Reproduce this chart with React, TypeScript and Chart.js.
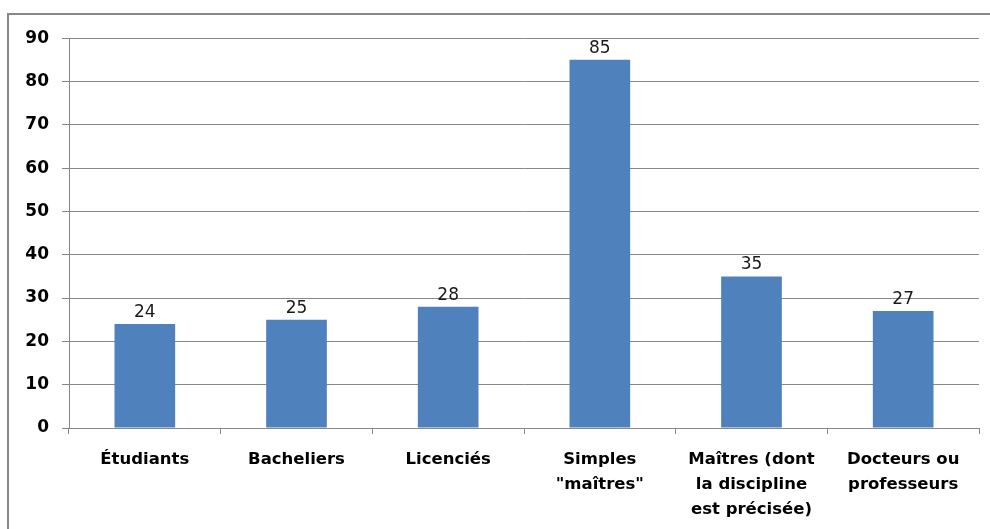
import React, { useEffect, useRef } from "react";
import { Chart, registerables } from "chart.js";

Chart.register(...registerables);

const categories: (string | string[])[] = [
  "Étudiants",
  "Bacheliers",
  "Licenciés",
  ["Simples", "\"maîtres\""],
  ["Maîtres (dont", "la discipline", "est précisée)"],
  ["Docteurs ou", "professeurs"],
];
const values: number[] = [24, 25, 28, 85, 35, 27];
const yTicks: number[] = [0, 10, 20, 30, 40, 50, 60, 70, 80, 90];

const valueLabels = {
  id: "valueLabels",
  afterDatasetsDraw(chart: any) {
    const ctx = chart.ctx;
    const meta = chart.getDatasetMeta(0);
    ctx.save();
    ctx.font = "17px 'DejaVu Sans'";
    ctx.fillStyle = "#1a1a1a";
    ctx.textAlign = "center";
    ctx.textBaseline = "bottom";
    meta.data.forEach((bar: any, i: number) => {
      ctx.fillText(String(values[i]), bar.x, bar.y - 3);
    });
    ctx.restore();
  },
};

export default function App() {
  const ref = useRef<HTMLCanvasElement | null>(null);
  useEffect(() => {
    if (!ref.current) return;
    const chart = new Chart(ref.current, {
      type: "bar",
      data: {
        labels: categories,
        datasets: [
          {
            data: values,
            backgroundColor: "#4f81bd",
            borderWidth: 0,
            barPercentage: 0.4,
            categoryPercentage: 1,
          },
        ],
      },
      options: {
        animation: false,
        responsive: false,
        maintainAspectRatio: false,
        layout: { padding: { left: 0, right: 11, top: 23, bottom: 0 } },
        plugins: { legend: { display: false }, tooltip: { enabled: false } },
        scales: {
          x: {
            offset: true,
            grid: {
              offset: true,
              drawOnChartArea: false,
              drawTicks: true,
              tickLength: 6,
              color: "#888888",
            },
            border: { color: "#888888", width: 1 },
            ticks: {
              color: "#000",
              font: { family: "'DejaVu Sans'", size: 16.5, weight: "bold", lineHeight: 1.52 },
              padding: 13,
              maxRotation: 0,
              autoSkip: false,
            },
            afterFit(scale: any) {
              scale.height = 101;
            },
          },
          y: {
            min: 0,
            max: 90,
            afterBuildTicks(scale: any) {
              scale.ticks = yTicks.map((v) => ({ value: v }));
            },
            grid: { color: "#888888", tickLength: 7, drawTicks: true },
            border: { color: "#888888", width: 1 },
            ticks: {
              color: "#000",
              font: { family: "'DejaVu Sans'", size: 17, weight: "bold" },
              padding: 13,
            },
            afterFit(scale: any) {
              scale.width = 60;
            },
          },
        },
      },
      plugins: [valueLabels],
    });
    return () => chart.destroy();
  }, []);
  return (
    <div
      style={{
        position: "fixed",
        left: 7,
        top: 13,
        width: 1000,
        height: 540,
        border: "2px solid #878787",
        background: "#fff",
        boxSizing: "border-box",
      }}
    >
      <canvas ref={ref} width={981} height={514} style={{ display: "block" }} />
    </div>
  );
}
